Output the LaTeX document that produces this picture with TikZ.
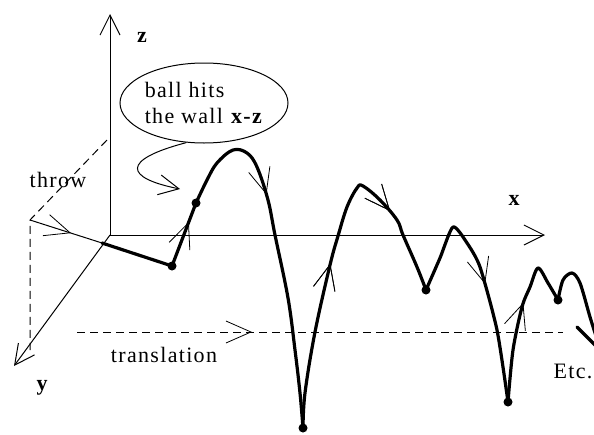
\documentclass[tikz,border=0pt]{standalone}
\usepackage{fontspec}
\setmainfont{Liberation Serif}[LetterSpace=6]
\usetikzlibrary{arrows.meta,shapes.geometric,decorations.markings}

\tikzset{
  axis/.style={line width=1pt},
  track/.style={line width=3.2pt, line join=round, line cap=round},
  guide/.style={line width=1pt, dash pattern=on 8pt off 5pt},
  barb/.style={-{Straight Barb[length=20pt,width=20pt]}},
  flow at/.style={postaction={decorate}, decoration={markings,
    mark=at position #1 with {\arrow{Straight Barb[length=25pt,width=22pt,line width=0.8pt]}}}},
  bounce/.style={circle, fill, inner sep=0pt, minimum size=9pt},
  lbl/.style={font=\fontsize{22}{26}\selectfont}
}

\begin{document}
\begin{tikzpicture}[x=1pt,y=-1pt]
\useasboundingbox (0,0) rectangle (594,434);
\coordinate (O) at (110,235);
\coordinate (zTop) at (110,14);
\coordinate (xEnd) at (545,235);
\coordinate (yEnd) at (14,366);
\coordinate (W) at (107,140);
\coordinate (T) at (30,220);
\coordinate (Tlow) at (30,350);
\coordinate (Tin) at (102,243);
\coordinate (trA) at (77,332);
\coordinate (trB) at (563,332);
\node[bounce] (b0) at (172,266) {};
\node[bounce] (b1) at (196,203) {};
\node[bounce] (b2) at (303,428) {};
\node[bounce] (b3) at (426,290) {};
\node[bounce] (b4) at (508,402) {};
\node[bounce] (b5) at (558,300) {};

\draw[axis,barb] (O) -- (zTop);
\draw[axis,barb] (O) -- (xEnd);
\draw[axis,barb] (O) -- (yEnd);
\node[lbl,font=\fontsize{22}{26}\selectfont\bfseries] (zl) at (142,37) {z};
\node[lbl,font=\fontsize{22}{26}\selectfont\bfseries] (xl) at (514,200) {x};
\node[lbl,font=\fontsize{22}{26}\selectfont\bfseries] (yl) at (42,388) {y};

\draw[guide] (W) -- (T) -- (Tlow);
\draw[axis,flow at=0.57] (T) -- (Tin);
\draw[track] (Tin) -- (b0.center);
\draw[track,flow at=0.7] (b0.center) -- (b1.center);
\node[lbl] (throw) at (58,180) {throw};

\draw[guide,flow at=0.36] (trA) -- (trB);
\node[lbl] (trl) at (164,355) {translation};

\draw[track,flow at=0.35] plot[smooth,tension=0.6] coordinates {(196,203) (207,180) (217,163) (233,150) (247,153) (257,167) (268,200) (275,235) (288,298) (295,350) (300,393) (303,428)};
\draw[track,flow at=0.44,flow at=0.77] plot[smooth,tension=0.6] coordinates {(303,428) (305,393) (315,332) (330,265) (338,236) (347,207) (357,188) (363,186) (380,200) (397,220) (403,235) (417,267) (426,290)};
\draw[track,flow at=0.53] plot[smooth,tension=0.4] coordinates {(426,290) (440,258) (453,227) (467,243) (480,267) (497,330) (508,402)};
\draw[track,flow at=0.57] plot[smooth,tension=0.5] coordinates {(508,402) (513,350) (522,307) (530,287) (538,268) (548,283) (558,300)};
\draw[track] plot[smooth,tension=0.5] coordinates {(558,300) (563,280) (572,273) (580,283) (590,317) (596,336)};
\draw[track] (577,327) -- (596,346);
\node[lbl] (etc) at (573,371) {Etc.};

\node[lbl,draw,line width=1pt,ellipse,minimum width=168pt,minimum height=80pt,align=left,inner sep=0pt] (bubble) at (204,103) {ball hits\\the wall \textbf{x-z}};
\draw[axis,barb] (bubble.246) .. controls (120,160) and (125,178) .. (180,189);
\end{tikzpicture}
\end{document}
